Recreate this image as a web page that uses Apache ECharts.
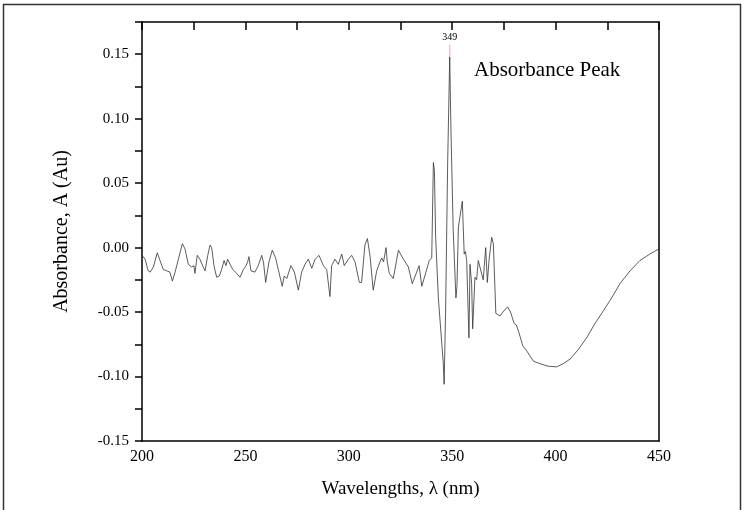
<!DOCTYPE html>
<html>
<head>
<meta charset="utf-8">
<script src="https://cdn.jsdelivr.net/npm/echarts@6/dist/echarts.min.js"></script>
<style>html,body{margin:0;padding:0;background:#fff}#c{width:744px;height:510px}</style>
</head>
<body>
<div id="c"></div>
<script>
// Wavelength (nm) and absorbance values
var wavelengths = [200,201.5,203,204,205.5,207.4,208.7,210.3,212,213.5,214.7,216,217.6,219.5,220.8,222.4,224,225.1,225.6,226.7,228,229.6,230.5,231.8,232.9,233.7,234.8,236.1,237.4,238.5,239.7,240.6,241.4,242.6,243.9,245.8,247.4,249,250.3,251.1,251.7,252.7,254.6,256.2,257.9,258.8,259.8,261.4,263,264.6,265.9,267.8,268.8,270,272,273.7,275.6,277.2,278.8,280.4,282.1,283.7,285.6,287.7,289.3,290.9,291.7,293.3,294.9,296.6,297.8,299.8,301.4,303,305.1,306.2,307.8,309,310.3,311.8,313.5,315.1,315.9,316.8,318,318.6,319.6,320.5,321.5,324,326.4,328.8,330.7,332.8,334,335.3,337.3,338.9,340.1,340.9,341.4,342,343.3,345.7,346.1,346.8,347.8,348.8,349.4,350.5,351.8,352.3,353,353.8,354.9,355.8,356.4,357,358.1,358.6,359.4,359.9,361,361.8,362.6,363.4,365,366.2,367,367.8,369.1,369.9,371.1,373.1,374.5,376.8,378.2,380,381,382.3,384.1,386,389.2,392.4,396.4,400.5,403.7,407,411,415,419,423.1,427.1,431.1,436,440.8,445.6,450];
var absorbance = [-0.006,-0.009,-0.018,-0.019,-0.015,-0.004,-0.010,-0.017,-0.018,-0.019,-0.026,-0.019,-0.009,0.003,-0.001,-0.013,-0.015,-0.014,-0.020,-0.006,-0.009,-0.015,-0.018,-0.006,0.002,0.000,-0.014,-0.023,-0.022,-0.017,-0.010,-0.014,-0.009,-0.013,-0.017,-0.020,-0.023,-0.017,-0.014,-0.011,-0.007,-0.018,-0.019,-0.014,-0.006,-0.012,-0.027,-0.011,-0.002,-0.008,-0.017,-0.030,-0.022,-0.024,-0.014,-0.019,-0.033,-0.019,-0.013,-0.009,-0.016,-0.009,-0.006,-0.014,-0.017,-0.038,-0.014,-0.009,-0.013,-0.005,-0.014,-0.009,-0.006,-0.011,-0.027,-0.027,0.002,0.007,-0.007,-0.033,-0.018,-0.011,-0.008,-0.011,0.000,-0.011,-0.020,-0.019,-0.024,-0.002,-0.009,-0.015,-0.028,-0.019,-0.014,-0.030,-0.019,-0.010,-0.008,0.066,0.060,0.008,-0.039,-0.090,-0.106,-0.050,0.065,0.148,0.091,0.013,-0.039,-0.030,0.016,0.015,0.036,-0.005,-0.003,-0.010,-0.070,-0.013,-0.028,-0.063,-0.023,-0.025,-0.010,-0.011,-0.025,0.000,-0.027,-0.010,0.008,0.003,-0.051,-0.053,-0.050,-0.046,-0.050,-0.059,-0.060,-0.066,-0.076,-0.080,-0.088,-0.090,-0.092,-0.0925,-0.090,-0.0865,-0.079,-0.070,-0.059,-0.049,-0.039,-0.028,-0.018,-0.010,-0.005,-0.001];
var peakWavelength = 348.8;
var peakValue = 0.148;
var peakLabel = '349';
var xTitle = 'Wavelengths, \u03bb (nm)';
var yTitle = 'Absorbance, A (Au)';
var annotation = 'Absorbance Peak';

var seriesData = wavelengths.map(function (w, i) { return [w, absorbance[i]]; });
var serif = '"Liberation Serif", "DejaVu Serif", serif';

var chart = echarts.init(document.getElementById('c'), null, { renderer: 'canvas' });
chart.setOption({
  backgroundColor: '#fff',
  animation: false,
  grid: { left: 142, right: 85, top: 22, bottom: 69, containLabel: false },
  xAxis: [{
    type: 'value', min: 200, max: 450, interval: 50, position: 'bottom',
    name: xTitle, nameLocation: 'middle', nameGap: 39,
    nameTextStyle: { fontFamily: serif, fontSize: 19, color: '#000' },
    axisLine: { show: true, onZero: false, lineStyle: { color: '#000', width: 1.5 } },
    axisTick: { show: false },
    axisLabel: { fontFamily: serif, fontSize: 16, color: '#000', margin: 8 },
    splitLine: { show: false }
  }, {
    type: 'value', min: 200, max: 450, interval: 25, position: 'top',
    axisLine: { show: true, onZero: false, lineStyle: { color: '#000', width: 1.5 } },
    axisTick: { show: true, inside: true, length: 8, lineStyle: { color: '#000', width: 1.5 } },
    axisLabel: { show: false },
    splitLine: { show: false }
  }],
  yAxis: [{
    type: 'value', min: -0.15, max: 0.175, interval: 0.025, position: 'left',
    name: yTitle, nameLocation: 'middle', nameGap: 70,
    nameTextStyle: { fontFamily: serif, fontSize: 20, color: '#000' },
    axisLine: { show: true, onZero: false, lineStyle: { color: '#000', width: 1.5 } },
    axisTick: { show: true, inside: false, length: 7, lineStyle: { color: '#000', width: 1.5 } },
    axisLabel: {
      fontFamily: serif, fontSize: 15, color: '#000', margin: 13,
      formatter: function (v) {
        var k = Math.round(v / 0.05);
        if (Math.abs(k * 0.05 - v) > 1e-6) return '';
        var r = k * 0.05;
        if (Math.abs(r) < 1e-9) r = 0;
        return r.toFixed(2);
      }
    },
    splitLine: { show: false }
  }, {
    type: 'value', min: -0.15, max: 0.175, position: 'right',
    axisLine: { show: true, onZero: false, lineStyle: { color: '#000', width: 1.5 } },
    axisTick: { show: false }, axisLabel: { show: false }, splitLine: { show: false }
  }],
  graphic: [{
    type: 'rect', shape: { x: 3.5, y: 4.5, width: 737, height: 520 },
    style: { fill: 'none', stroke: '#333', lineWidth: 1.5 }, silent: true
  }, {
    type: 'text', left: 474, top: 60,
    style: { text: annotation, font: '21px ' + serif, fill: '#000' }
  }],
  series: [{
    type: 'line', xAxisIndex: 0, yAxisIndex: 0,
    data: seriesData, showSymbol: false, smooth: false,
    lineStyle: { color: '#333', width: 0.8 },
    markPoint: {
      symbol: 'rect', symbolSize: [1.2, 12], symbolOffset: [0, -6],
      itemStyle: { color: '#f6b3bf' },
      label: { show: true, position: 'top', distance: 2, formatter: peakLabel, fontFamily: serif, fontSize: 10, color: '#000' },
      data: [{ coord: [peakWavelength, peakValue] }]
    }
  }]
});
</script>
</body>
</html>
